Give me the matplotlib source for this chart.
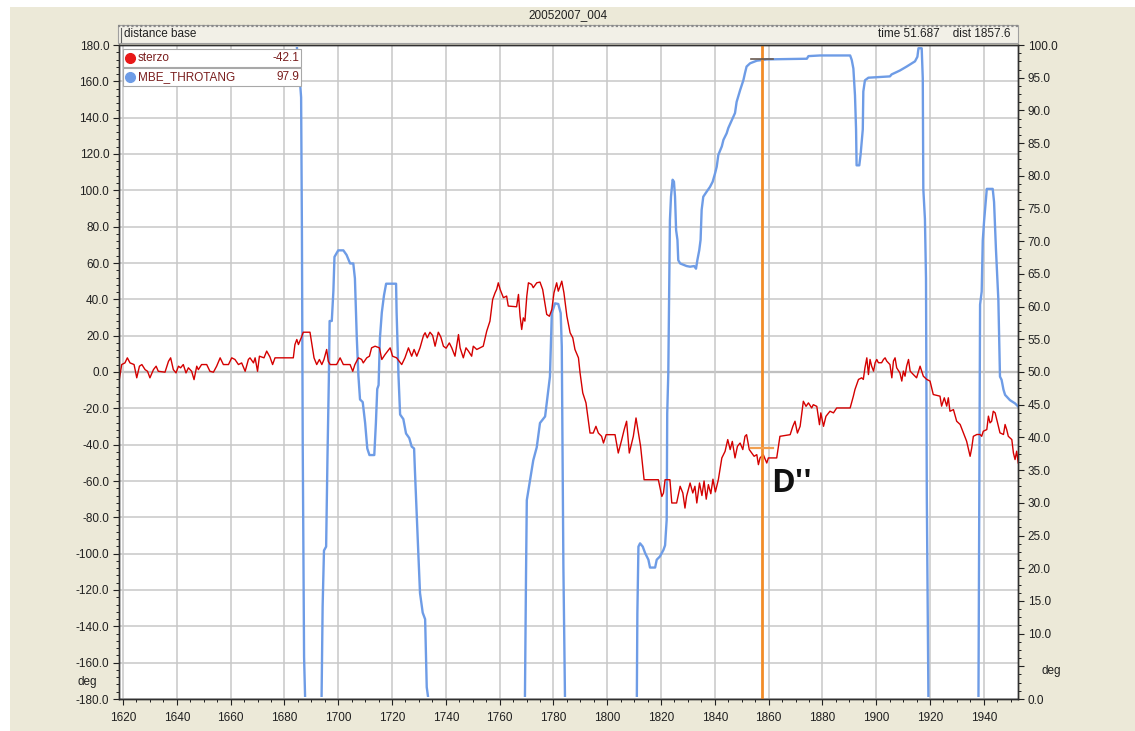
import matplotlib
matplotlib.use('Agg')
import matplotlib.pyplot as plt
from matplotlib.patches import Rectangle
from matplotlib.lines import Line2D
from matplotlib.ticker import MultipleLocator, FuncFormatter

plt.rcParams['font.family'] = ['Liberation Sans', 'DejaVu Sans']

W, H = 1135, 731
BG = '#ECE9D8'
FS = 8.5

# session info
run_name = "20052007_004"
cursor_time = 51.687
cursor_dist = 1857.6
sterzo_at_cursor = -42.1
throt_at_cursor = 97.9

# sterzo (steering angle, deg) vs distance
sterzo_dist = [
    1618.6, 1619.5, 1620.7, 1621.6, 1622.6, 1624.1, 1625.1, 1626.1, 1627.0, 1628.2,
    1629.1, 1630.0, 1631.3, 1632.3, 1633.1, 1635.6, 1636.9, 1637.7, 1638.7, 1639.7,
    1640.6, 1641.4, 1642.4, 1643.4, 1644.3, 1645.5, 1646.4, 1647.4, 1648.0, 1649.2,
    1651.1, 1652.3, 1653.6, 1654.8, 1656.1, 1657.3, 1659.2, 1660.4, 1661.6, 1662.9,
    1664.1, 1665.4, 1666.6, 1667.2, 1668.5, 1669.1, 1670.0, 1670.7, 1672.4, 1673.4,
    1674.6, 1675.6, 1676.5, 1683.3, 1683.9, 1684.6, 1685.2, 1686.4, 1687.0, 1689.5,
    1690.5, 1691.0, 1692.0, 1693.0, 1693.9, 1694.7, 1695.7, 1696.3, 1697.0, 1699.4,
    1700.7, 1701.9, 1704.4, 1705.4, 1706.2, 1707.5, 1708.7, 1709.3, 1710.6, 1711.6,
    1712.4, 1713.7, 1715.3, 1716.2, 1717.4, 1719.3, 1720.2, 1721.7, 1723.6, 1724.8,
    1726.1, 1727.3, 1728.2, 1729.2, 1730.4, 1731.7, 1732.3, 1733.1, 1734.1, 1735.1,
    1736.0, 1737.2, 1738.1, 1739.1, 1740.1, 1741.3, 1742.2, 1743.4, 1744.7, 1745.3,
    1746.5, 1747.5, 1748.4, 1749.6, 1750.2, 1751.5, 1752.7, 1753.9, 1755.2, 1756.4,
    1757.4, 1758.3, 1758.9, 1759.5, 1760.2, 1761.4, 1762.6, 1763.2, 1766.3, 1767.0,
    1767.6, 1768.2, 1768.8, 1769.4, 1770.1, 1770.7, 1771.9, 1772.5, 1773.8, 1775.0,
    1776.0, 1776.9, 1777.5, 1778.5, 1779.4, 1780.2, 1781.2, 1781.8, 1782.5, 1783.1,
    1783.9, 1785.0, 1786.2, 1787.2, 1788.0, 1789.3, 1789.9, 1790.9, 1792.1, 1793.6,
    1794.8, 1795.8, 1796.7, 1797.9, 1798.6, 1799.6, 1802.9, 1804.1, 1805.4, 1806.3,
    1807.2, 1808.2, 1809.1, 1809.7, 1810.7, 1811.6, 1812.4, 1813.7, 1819.0, 1820.3,
    1820.9, 1821.5, 1823.3, 1824.0, 1825.8, 1827.1, 1828.1, 1828.9, 1829.5, 1830.8,
    1831.8, 1832.6, 1833.3, 1834.3, 1835.2, 1836.0, 1836.8, 1837.6, 1838.5, 1839.3,
    1840.2, 1841.3, 1842.6, 1843.8, 1844.8, 1845.7, 1846.5, 1847.5, 1848.4, 1849.4,
    1850.4, 1851.2, 1851.8, 1852.8, 1853.7, 1854.6, 1855.6, 1856.2, 1856.8, 1858.0,
    1859.3, 1859.9, 1863.0, 1864.2, 1868.0, 1869.0, 1869.8, 1870.7, 1871.7, 1872.9,
    1873.9, 1874.8, 1876.0, 1876.6, 1877.9, 1878.9, 1879.4, 1880.4, 1881.3, 1882.8,
    1884.1, 1885.3, 1890.3, 1891.5, 1892.1, 1893.4, 1894.6, 1895.2, 1895.8, 1896.5,
    1897.1, 1897.7, 1898.3, 1899.0, 1899.6, 1900.2, 1900.8, 1902.0, 1902.7, 1903.3,
    1903.9, 1905.1, 1905.8, 1906.4, 1907.0, 1907.6, 1908.8, 1909.5, 1910.1, 1910.7,
    1911.3, 1912.0, 1912.6, 1913.8, 1915.0, 1916.3, 1917.5, 1918.8, 1920.0, 1921.2,
    1923.7, 1924.3, 1925.3, 1926.2, 1926.8, 1927.4, 1928.7, 1929.9, 1931.2, 1932.4,
    1933.6, 1934.9, 1935.5, 1936.1, 1937.4, 1938.6, 1939.2, 1939.8, 1941.1, 1941.7,
    1942.3, 1942.9, 1943.5, 1944.2, 1944.8, 1946.0, 1947.3, 1947.9, 1948.5, 1949.1,
    1950.4, 1951.0, 1951.6, 1952.2, 1952.8,
]
sterzo_deg = [
    -4.2, 4.1, 5.0, 7.8, 5.0, 4.1, -3.2, 3.2, 4.1, 1.3,
    0.4, -3.2, 1.3, 3.2, 0.4, -0.1, 5.9, 7.8, 1.3, -0.5,
    3.2, 2.3, 4.1, -0.5, 2.3, 0.4, -4.2, 3.2, 1.3, 4.1,
    4.1, 0.4, -0.1, 3.2, 7.8, 4.1, 4.1, 7.8, 6.9, 4.1,
    5.0, 0.4, 6.9, 7.8, 5.0, 7.8, 0.4, 8.7, 7.8, 11.5,
    8.3, 4.1, 7.8, 7.8, 15.1, 17.9, 15.1, 19.4, 21.9, 21.9,
    12.4, 7.8, 4.1, 6.9, 4.1, 6.9, 12.4, 5.9, 4.1, 4.1,
    7.8, 4.1, 4.1, 0.4, 4.1, 7.8, 6.9, 5.0, 7.8, 8.7,
    13.3, 14.2, 13.3, 6.9, 9.6, 13.3, 8.7, 7.8, 4.1, 7.8,
    13.3, 8.7, 12.4, 8.7, 13.3, 20.1, 21.6, 18.8, 21.9, 20.1,
    14.2, 21.9, 19.4, 14.2, 13.1, 16.0, 13.3, 8.7, 20.6, 13.3,
    7.8, 13.3, 11.5, 8.7, 14.2, 12.4, 13.3, 14.2, 22.5, 28.0,
    39.9, 43.6, 45.5, 49.1, 45.4, 40.9, 41.8, 36.3, 35.9, 42.7,
    30.7, 23.4, 29.8, 28.0, 41.8, 49.1, 48.2, 46.4, 49.1, 49.5,
    45.4, 37.2, 31.7, 30.7, 34.4, 43.6, 49.1, 44.5, 47.3, 50.0,
    43.6, 30.7, 21.6, 18.8, 12.4, 7.8, -0.5, -11.5, -17.0, -33.6,
    -33.6, -29.9, -33.6, -35.4, -39.1, -34.5, -34.5, -44.6, -37.2, -31.7,
    -27.1, -44.6, -39.1, -35.4, -25.3, -33.6, -40.9, -59.3, -59.3, -68.5,
    -66.6, -59.3, -59.3, -72.1, -72.1, -62.9, -66.6, -74.9, -68.4, -61.1,
    -66.6, -62.9, -72.1, -61.1, -68.0, -60.0, -70.0, -62.0, -67.0, -59.0,
    -66.0, -59.3, -47.3, -43.7, -37.2, -42.7, -38.2, -47.3, -40.9, -39.1,
    -42.7, -35.4, -34.5, -42.7, -44.6, -46.4, -45.5, -51.0, -47.3, -45.5,
    -50.1, -47.3, -47.3, -35.4, -34.5, -29.9, -27.1, -33.6, -29.9, -16.1,
    -18.9, -17.0, -19.8, -18.0, -18.9, -29.0, -22.5, -29.9, -24.4, -21.6,
    -22.5, -19.8, -19.8, -13.3, -9.6, -4.1, -3.2, -4.1, 2.3, 7.8,
    -1.4, 6.9, 3.2, 0.5, 5.1, 6.9, 5.1, 5.1, 6.9, 7.8,
    6.0, 4.1, -3.2, 6.0, 7.8, 2.3, -0.5, -5.0, 0.5, -2.3,
    3.2, 6.9, 0.5, -1.4, -3.2, 3.2, -2.3, -4.1, -5.0, -12.4,
    -13.3, -18.8, -14.2, -18.8, -14.2, -21.6, -20.7, -27.1, -28.9, -33.5,
    -38.1, -46.4, -41.8, -35.4, -34.4, -34.4, -35.4, -32.6, -31.7, -24.3,
    -28.0, -27.1, -21.6, -22.5, -26.2, -33.5, -34.4, -28.9, -31.7, -35.4,
    -37.2, -44.6, -48.2, -43.6, -50.1,
]

# MBE_THROTANG (throttle angle, %) vs distance
throt_dist = [
    1618.5, 1683.9, 1684.6, 1685.8, 1686.2, 1686.5, 1686.8, 1687.3, 1687.7, 1693.8,
    1694.2, 1694.7, 1695.5, 1696.0, 1696.5, 1696.8, 1697.6, 1698.2, 1698.6, 1700.0,
    1701.9, 1703.1, 1704.4, 1705.6, 1706.2, 1706.9, 1707.5, 1708.1, 1709.1, 1710.0,
    1710.8, 1711.6, 1713.4, 1714.0, 1714.5, 1715.0, 1715.5, 1716.2, 1717.0, 1717.8,
    1721.5, 1721.7, 1722.4, 1723.0, 1724.2, 1725.2, 1726.4, 1727.3, 1728.2, 1728.5,
    1729.2, 1729.8, 1730.4, 1731.4, 1732.3, 1732.9, 1733.5, 1769.4, 1769.8, 1770.1,
    1771.3, 1772.5, 1773.8, 1775.0, 1776.9, 1777.5, 1778.7, 1779.4, 1780.6, 1781.8,
    1782.7, 1783.1, 1783.7, 1784.3, 1811.0, 1811.2, 1811.6, 1812.2, 1813.2, 1814.1,
    1815.3, 1815.9, 1817.8, 1818.4, 1819.6, 1820.9, 1821.5, 1822.1, 1822.3, 1822.7,
    1823.1, 1823.3, 1823.7, 1824.3, 1824.8, 1825.2, 1825.6, 1826.1, 1826.4, 1827.1,
    1829.5, 1830.8, 1832.3, 1833.0, 1833.5, 1834.2, 1834.7, 1835.1, 1835.7, 1837.0,
    1838.2, 1839.2, 1840.1, 1840.7, 1841.3, 1842.6, 1843.2, 1844.4, 1845.0, 1846.3,
    1847.5, 1848.1, 1849.4, 1850.6, 1851.2, 1851.8, 1853.1, 1854.3, 1855.6, 1859.3,
    1874.2, 1874.8, 1879.1, 1890.3, 1890.9, 1891.5, 1892.1, 1892.5, 1892.7, 1893.7,
    1894.2, 1895.0, 1895.2, 1895.8, 1897.1, 1905.1, 1905.7, 1908.8, 1911.3, 1914.4,
    1915.3, 1915.7, 1916.9, 1917.3, 1917.5, 1918.1, 1918.5, 1918.8, 1919.1, 1919.4,
    1938.0, 1938.2, 1938.6, 1939.2, 1939.6, 1940.1, 1941.1, 1943.3, 1943.8, 1944.5,
    1945.4, 1946.0, 1946.6, 1947.3, 1947.9, 1949.7, 1951.6, 1952.8,
]
throt_pct = [
    100.0, 100.0, 99.8, 94.3, 92.0, 71.5, 38.9, 6.4, 0.0, 0.0,
    14.2, 22.7, 23.3, 37.0, 48.7, 57.8, 57.8, 62.4, 67.6, 68.6,
    68.6, 67.9, 66.6, 66.6, 64.3, 55.2, 49.4, 45.8, 45.4, 42.2,
    38.3, 37.3, 37.3, 42.2, 47.4, 48.0, 55.2, 59.1, 61.7, 63.5,
    63.5, 59.1, 49.4, 43.5, 42.8, 40.6, 39.9, 38.6, 38.3, 35.0,
    27.9, 22.0, 16.2, 13.2, 12.2, 1.8, 0.0, 0.0, 18.7, 30.4,
    33.5, 36.5, 38.5, 42.2, 43.2, 45.2, 49.3, 59.0, 60.5, 60.4,
    59.0, 53.9, 20.2, 0.0, 0.0, 13.1, 23.3, 23.8, 23.3, 22.3,
    21.3, 20.1, 20.1, 21.3, 21.8, 22.8, 23.5, 27.4, 43.7, 49.8,
    64.6, 73.2, 76.8, 79.4, 79.1, 76.8, 71.7, 70.2, 67.1, 66.6,
    66.2, 66.1, 66.2, 65.8, 67.1, 68.6, 70.2, 74.8, 76.8, 77.6,
    78.3, 79.1, 80.4, 81.4, 83.2, 84.5, 85.5, 86.5, 87.3, 88.5,
    89.6, 91.3, 93.1, 94.6, 95.7, 96.7, 97.2, 97.4, 97.6, 97.8,
    97.9, 98.3, 98.4, 98.4, 97.7, 96.4, 92.3, 87.1, 81.6, 81.6,
    83.3, 87.1, 92.9, 94.6, 95.0, 95.2, 95.5, 96.1, 96.7, 97.5,
    98.2, 99.5, 99.5, 94.9, 78.0, 73.4, 64.3, 31.0, 16.0, 0.0,
    0.0, 19.9, 60.3, 62.3, 70.1, 73.1, 78.0, 78.0, 76.0, 68.8,
    61.0, 49.3, 48.8, 47.3, 46.5, 45.7, 45.2, 44.7,
]


def fx(x):
    return x / W


def fy(y):
    return 1 - y / H


fig = plt.figure(figsize=(W / 100, H / 100), dpi=100)
fig.patch.set_facecolor('white')
fig.add_artist(Rectangle((fx(10), 0), 1 - fx(10), fy(7), transform=fig.transFigure,
                         fc=BG, ec='none', zorder=-10))

# header
fig.text(fx(568), fy(15), run_name, ha='center', va='center', fontsize=FS, color='#202020')
fig.add_artist(Rectangle((fx(118), fy(43)), fx(1018) - fx(118), fy(25) - fy(43),
                         transform=fig.transFigure, fc='#F2F0E7', ec='#A0A0A0', lw=0.8, zorder=1))
fig.add_artist(Line2D([fx(118), fx(1018)], [fy(25.5), fy(25.5)], transform=fig.transFigure,
                      color='#8A8A8A', lw=1.6, ls=(0, (1, 1)), zorder=2))
fig.add_artist(Line2D([fx(121), fx(121)], [fy(28), fy(42)], transform=fig.transFigure,
                      color='#606060', lw=0.8, zorder=2))
fig.text(fx(124), fy(34), "distance base", ha='left', va='center', fontsize=FS, color='#202020')
fig.text(fx(1011), fy(34), f"time {cursor_time:.3f}    dist {cursor_dist:.1f}",
         ha='right', va='center', fontsize=FS, color='#202020')

ax = fig.add_axes([fx(119), fy(699), fx(1018) - fx(119), fy(45) - fy(699)])
ax.set_facecolor('white')
ax2 = ax.twinx()

ax.set_xlim(1618.5, 1952.7)
ax.set_ylim(-180, 180)
ax2.set_ylim(0, 100)

ax.xaxis.set_major_locator(MultipleLocator(20))
ax.xaxis.set_minor_locator(MultipleLocator(5))
ax.yaxis.set_major_locator(MultipleLocator(20))
ax.yaxis.set_minor_locator(MultipleLocator(4))
ax.yaxis.set_major_formatter(FuncFormatter(lambda v, p: f"{v:.1f}"))
ax2.yaxis.set_major_locator(MultipleLocator(5))
ax2.yaxis.set_minor_locator(MultipleLocator(1.25))
# the 5.0 slot carries the unit label instead
ax2.yaxis.set_major_formatter(FuncFormatter(lambda v, p: "" if abs(v - 5) < 0.01 else f"{v:.1f}"))

ax.grid(True, which='major', color='#C8C8C8', lw=1.1)
ax.axhline(0, color='#A8A8A8', lw=1.6, zorder=1)

ax.tick_params(axis='both', which='major', direction='out', length=4, width=0.8,
               labelsize=FS, colors='#202020', top=False)
ax.tick_params(axis='both', which='minor', direction='out', length=2.2, width=0.7,
               colors='#202020', top=False)
ax.tick_params(axis='x', pad=5.5)
ax.tick_params(axis='y', pad=3)
ax2.tick_params(axis='y', which='major', direction='out', length=4, width=0.8,
                labelsize=FS, colors='#202020', pad=3)
ax2.tick_params(axis='y', which='minor', direction='out', length=2.2, width=0.7, colors='#202020')

for a in (ax, ax2):
    for s in a.spines.values():
        s.set_color('#303030')
        s.set_linewidth(1.0)
        s.set_zorder(5)

# traces; pinned 0/100 stretches sit hidden under the frame
clip = Rectangle((0, 0.0028), 1, 0.9944, transform=ax2.transAxes)
tl, = ax2.plot(throt_dist, throt_pct, color='#6E9CE6', lw=1.7, zorder=2)
tl.set_clip_path(clip)
ax2.plot(sterzo_dist, sterzo_deg, color='#D40000', lw=1.0, zorder=3, transform=ax.transData)

# cursor
ax2.axvline(cursor_dist, color='#F28C28', lw=2.0, zorder=4)
ax2.plot([cursor_dist - 4, cursor_dist + 4], [throt_at_cursor] * 2, color='#6A5A50', lw=1.2, zorder=4)
ax2.plot([cursor_dist - 4, cursor_dist + 4], [sterzo_at_cursor] * 2, color='#F2A050', lw=1.6,
         zorder=4, transform=ax.transData)
ax2.set_xlim(1618.5, 1952.7)

ax.text(1861.0, -52.5, "D''", transform=ax.transData, ha='left', va='top',
        fontsize=23, fontweight='bold', family=['Open Sans', 'DejaVu Sans'], color='#111111')

# unit labels
fig.text(fx(97), fy(682), "deg", ha='right', va='center', fontsize=FS, color='#202020')
fig.text(fx(1042), fy(671), "deg", ha='left', va='center', fontsize=FS, color='#202020')

# legend
rows = [("sterzo", sterzo_at_cursor, '#E81818', 58),
        ("MBE_THROTANG", throt_at_cursor, '#6E9CE6', 77)]
for name, val, col, yc in rows:
    fig.add_artist(Rectangle((fx(123), fy(yc + 9)), fx(301) - fx(123), fy(yc - 9) - fy(yc + 9),
                             transform=fig.transFigure, fc='white', ec='#A8A8A8', lw=0.8, zorder=6))
    fig.add_artist(Line2D([fx(130)], [fy(yc)], transform=fig.transFigure, marker='o',
                          ms=7, color=col, mec=col, zorder=7))
    fig.text(fx(138), fy(yc), name, ha='left', va='center', fontsize=FS, color='#7A1E1E', zorder=7)
    fig.text(fx(299), fy(yc), f"{val:.1f}", ha='right', va='center', fontsize=FS,
             color='#7A1E1E', zorder=7)

fig.savefig('out.png', dpi=100, facecolor=fig.get_facecolor())
